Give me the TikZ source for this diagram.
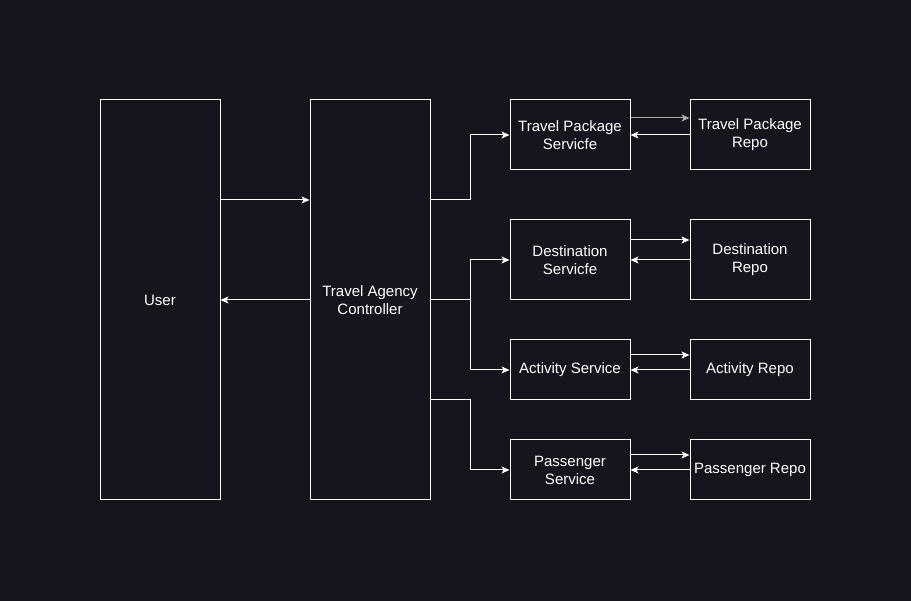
\documentclass[tikz,border=0pt]{standalone}
\usepackage{fontspec}
\setmainfont{Liberation Sans}
\usepackage{tikz}
\usetikzlibrary{arrows.meta}
\definecolor{bgdark}{RGB}{24,20,29}
\definecolor{linegray}{RGB}{170,170,170}

\begin{document}
\begin{tikzpicture}[x=1pt,y=-1pt]
	\tikzstyle{every node}+=[inner sep=0pt]
	\tikzstyle{block}=[draw=white,line width=1pt,text=white,align=center,minimum width=120pt,font=\fontsize{15}{18}\selectfont]
	\tikzstyle{link}=[draw=white,line width=1pt,-{Stealth[length=8pt,width=7pt,inset=2pt]}]
	\fill [bgdark] (0,0) rectangle (911,601);
	\useasboundingbox (0,0) rectangle (911,601);
	\node [block,minimum height=400pt] (user) at (160,300) {User};
	\node [block,minimum height=400pt] (ctrl) at (370,300) {Travel Agency\\Controller};
	\node [block,minimum height=70pt] (tps) at (570,135) {Travel Package\\Servicfe};
	\node [block,minimum height=70pt] (tpr) at (750,135) {Travel Package\\Repo};
	\node [block,minimum height=80pt] (dss) at (570,260) {Destination\\Servicfe};
	\node [block,minimum height=80pt] (dsr) at (750,260) {Destination\\Repo};
	\node [block,minimum height=60pt] (acs) at (570,370) {Activity Service};
	\node [block,minimum height=60pt] (acr) at (750,370) {Activity Repo};
	\node [block,minimum height=60pt] (pas) at (570,470) {Passenger\\Service};
	\node [block,minimum height=60pt] (par) at (750,470) {Passenger Repo};
	% user and controller
	\draw [link] ([yshift=100pt]user.east) -- ([yshift=100pt]ctrl.west);
	\draw [link] (ctrl.west) -- (user.east);
	% controller to services
	\draw [link] ([yshift=100pt]ctrl.east) -- ++(40,0) |- (tps.west);
	\draw [link] (ctrl.east) -- ++(40,0) |- (dss.west);
	\draw [link] (ctrl.east) -- ++(40,0) |- (acs.west);
	\draw [link] ([yshift=-100pt]ctrl.east) -- ++(40,0) |- (pas.west);
	% services and repos
	\draw [link,draw=linegray] ([yshift=17pt]tps.east) -- ([yshift=17pt]tpr.west);
	\draw [link] (tpr.west) -- (tps.east);
	\draw [link] ([yshift=20pt]dss.east) -- ([yshift=20pt]dsr.west);
	\draw [link] (dsr.west) -- (dss.east);
	\draw [link] ([yshift=15pt]acs.east) -- ([yshift=15pt]acr.west);
	\draw [link] (acr.west) -- (acs.east);
	\draw [link] ([yshift=15pt]pas.east) -- ([yshift=15pt]par.west);
	\draw [link] (par.west) -- (pas.east);
\end{tikzpicture}
\end{document}
